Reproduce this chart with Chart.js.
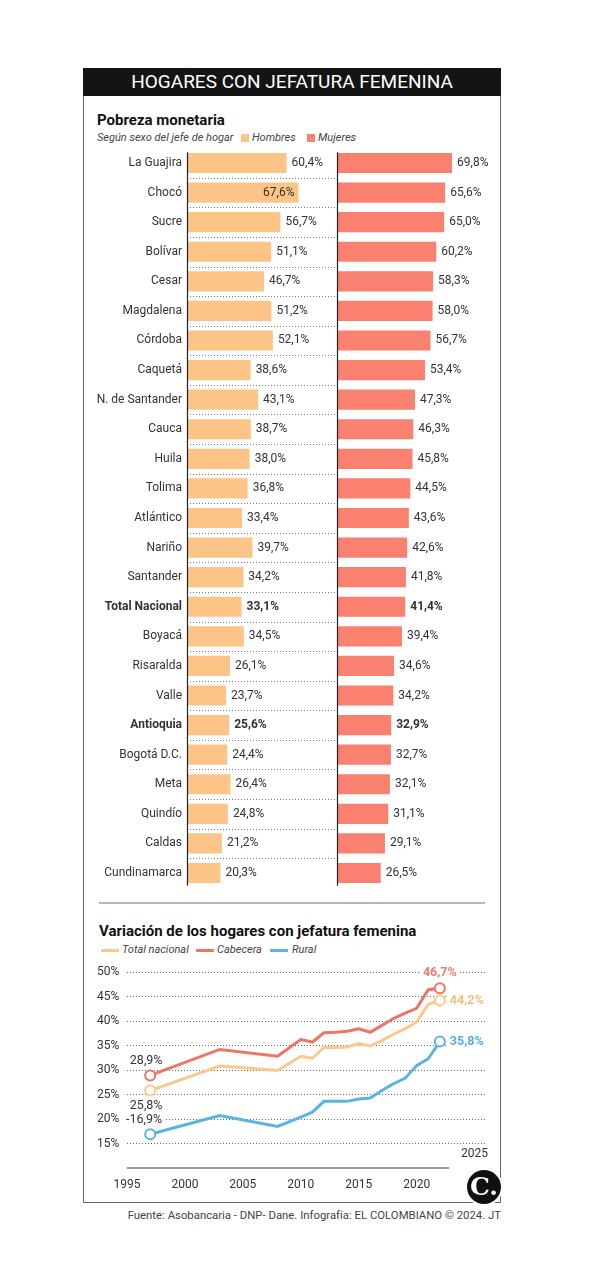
<!DOCTYPE html>
<html lang="es">
<head>
<meta charset="utf-8">
<title>Hogares con jefatura femenina</title>
<script src="https://cdn.jsdelivr.net/npm/chart.js@4.4.1/dist/chart.umd.min.js"></script>
<style>
  body { margin: 0; background: #fff; font-family: Roboto, sans-serif; color: #222; }
  #page { position: relative; width: 594px; height: 1280px; overflow: hidden; }
  .abs { position: absolute; white-space: nowrap; }
  .frame { left: 83px; top: 68px; width: 418px; height: 1135px; border: 1px solid #666; box-sizing: border-box; }
  .header { left: 83px; top: 68px; width: 418px; height: 28px; background: #141414; color: #fff;
            font-size: 19px; line-height: 28px; text-align: center; }
  .title { font-weight: bold; font-size: 15px; line-height: 15px; color: #111; }
  .sub { font-style: italic; font-size: 11px; line-height: 11px; color: #444; }
  .sq { width: 8px; height: 8px; }
  .ln { width: 18px; height: 3px; }
  canvas { position: absolute; }
  .sep { left: 99px; top: 902px; width: 386px; height: 2px; background: #b5b5b5; }
  .logo { left: 467px; top: 1170px; width: 34px; height: 34px; border-radius: 50%; background: #111;
          box-shadow: 0 0 0 2px #fff; color: #fff; font: bold 25px "DejaVu Serif", serif; line-height: 34px; text-align: center; }
  .fuente { right: 93px; top: 1209px; font-size: 11.35px; line-height: 12px; color: #444; }
</style>
</head>
<body>
<div id="page">
  <div class="abs frame"></div>
  <div class="abs header">HOGARES CON JEFATURA FEMENINA</div>

  <div class="abs title" style="left:97px; top:113px;">Pobreza monetaria</div>
  <div class="abs sub" style="left:97px; top:132px;">Según sexo del jefe de hogar</div>
  <div class="abs sq" style="left:241px; top:134px; background:#fdc487;"></div>
  <div class="abs sub" style="left:252px; top:132px;">Hombres</div>
  <div class="abs sq" style="left:307px; top:134px; background:#fa8070;"></div>
  <div class="abs sub" style="left:318px; top:132px;">Mujeres</div>

  <canvas id="barras" width="416" height="764" style="left:84px; top:136px;"></canvas>

  <div class="abs sep"></div>

  <div class="abs title" style="left:99px; top:924px;">Variación de los hogares con jefatura femenina</div>
  <div class="abs ln" style="left:101px; top:949px; background:#fbc98a;"></div>
  <div class="abs sub" style="left:122px; top:944px;">Total nacional</div>
  <div class="abs ln" style="left:196px; top:949px; background:#ec7566;"></div>
  <div class="abs sub" style="left:217px; top:944px;">Cabecera</div>
  <div class="abs ln" style="left:270px; top:949px; background:#5ab4e1;"></div>
  <div class="abs sub" style="left:292px; top:944px;">Rural</div>

  <canvas id="linea" width="416" height="245" style="left:84px; top:955px;"></canvas>

  <div class="abs logo">C.</div>
  <div class="abs fuente">Fuente: Asobancaria - DNP- Dane. Infografía: EL COLOMBIANO © 2024. JT</div>
</div>

<script>
// Pobreza monetaria según sexo del jefe de hogar (%)
const provincias = ['La Guajira', 'Chocó', 'Sucre', 'Bolívar', 'Cesar', 'Magdalena', 'Córdoba', 'Caquetá',
  'N. de Santander', 'Cauca', 'Huila', 'Tolima', 'Atlántico', 'Nariño', 'Santander', 'Total Nacional',
  'Boyacá', 'Risaralda', 'Valle', 'Antioquia', 'Bogotá D.C.', 'Meta', 'Quindío', 'Caldas', 'Cundinamarca'];
const hombres = [60.4, 67.6, 56.7, 51.1, 46.7, 51.2, 52.1, 38.6, 43.1, 38.7, 38.0, 36.8, 33.4, 39.7, 34.2, 33.1,
  34.5, 26.1, 23.7, 25.6, 24.4, 26.4, 24.8, 21.2, 20.3];
const mujeres = [69.8, 65.6, 65.0, 60.2, 58.3, 58.0, 56.7, 53.4, 47.3, 46.3, 45.8, 44.5, 43.6, 42.6, 41.8, 41.4,
  39.4, 34.6, 34.2, 32.9, 32.7, 32.1, 31.1, 29.1, 26.5];
const filasDestacadas = ['Total Nacional', 'Antioquia'];

// Variación de los hogares con jefatura femenina (%)
const anios = [1997, 2003, 2008, 2010, 2011, 2012, 2013, 2014, 2015, 2016, 2017, 2018, 2019, 2020, 2021, 2022];
const totalNacional = [25.8, 30.8, 29.9, 32.8, 32.4, 34.6, 34.6, 34.7, 35.4, 34.9, 36.0, 37.3, 38.4, 39.8, 43.4, 44.2];
const cabecera = [28.9, 34.2, 32.8, 36.2, 35.7, 37.6, 37.7, 37.9, 38.4, 37.7, 39.1, 40.5, 41.6, 42.6, 46.4, 46.7];
const rural = [16.9, 20.7, 18.5, 20.4, 21.4, 23.6, 23.6, 23.6, 24.1, 24.3, 25.8, 27.2, 28.3, 30.9, 32.3, 35.8];

Chart.defaults.font.family = 'Roboto';
Chart.defaults.color = '#333';

function fmt(v) {
  return v.toFixed(1).replace('.', ',') + '%';
}

var barrasExtras = {
  id: 'barrasExtras',
  afterDatasetsDraw: function(chart) {
    var ctx = chart.ctx, xH = chart.scales.xH, xM = chart.scales.xM, y = chart.scales.y, area = chart.chartArea;
    ctx.save();
    // dotted separators, only in the left panel
    ctx.strokeStyle = '#777';
    ctx.lineWidth = 1;
    ctx.setLineDash([1, 2]);
    for (var i = 0; i < provincias.length - 1; i++) {
      var yy = Math.round((y.getPixelForValue(i) + y.getPixelForValue(i + 1)) / 2) + 0.5;
      ctx.beginPath();
      ctx.moveTo(xH.left, yy);
      ctx.lineTo(xH.right, yy);
      ctx.stroke();
    }
    ctx.setLineDash([]);
    // panel axes
    ctx.strokeStyle = '#222';
    ctx.lineWidth = 1.2;
    [xH.left, xM.left].forEach(function(x) {
      ctx.beginPath();
      ctx.moveTo(Math.round(x) + 0.5, area.top + 4);
      ctx.lineTo(Math.round(x) + 0.5, area.bottom - 2);
      ctx.stroke();
    });
    // value labels
    ctx.textBaseline = 'middle';
    ctx.fillStyle = '#333';
    chart.data.datasets.forEach(function(ds, d) {
      chart.getDatasetMeta(d).data.forEach(function(bar, i) {
        var txt = fmt(ds.data[i]);
        ctx.font = (filasDestacadas.indexOf(provincias[i]) >= 0 ? 'bold ' : '') + '12px Roboto';
        var w = ctx.measureText(txt).width;
        // left panel: label goes inside the bar when it would run into the other panel
        if (d === 0 && bar.x + 5 + w > xH.right - 10) {
          ctx.textAlign = 'right';
          ctx.fillText(txt, bar.x - 4, bar.y);
        } else {
          ctx.textAlign = 'left';
          ctx.fillText(txt, bar.x + 5, bar.y);
        }
      });
    });
    ctx.restore();
  }
};

var chartBarras = new Chart(document.getElementById('barras'), {
  type: 'bar',
  data: {
    labels: provincias,
    datasets: [{
      label: 'Hombres',
      data: hombres,
      xAxisID: 'xH',
      backgroundColor: '#fdc487',
      grouped: false,
      categoryPercentage: 1,
      barPercentage: 0.68
    }, {
      label: 'Mujeres',
      data: mujeres,
      xAxisID: 'xM',
      backgroundColor: '#fa8070',
      grouped: false,
      categoryPercentage: 1,
      barPercentage: 0.68
    }]
  },
  options: {
    indexAxis: 'y',
    responsive: false,
    animation: false,
    devicePixelRatio: 1,
    layout: { padding: { left: 0, right: 13, top: 0, bottom: 0 } },
    plugins: { legend: { display: false }, tooltip: { enabled: false } },
    scales: {
      y: {
        grid: { display: false, drawTicks: false },
        border: { display: false },
        afterFit: function(s) { s.width = 103; },
        ticks: {
          padding: 5,
          color: '#333',
          font: function(c) {
            return { family: 'Roboto', size: 12, weight: filasDestacadas.indexOf(provincias[c.index]) >= 0 ? 'bold' : 'normal' };
          }
        }
      },
      xH: { type: 'linear', position: 'bottom', stack: 'paneles', min: 0, max: 91, display: false },
      xM: { type: 'linear', position: 'bottom', stack: 'paneles', min: 0, max: 91, display: false }
    }
  },
  plugins: [barrasExtras]
});

// labels at the ends of the lines
var etiquetasLinea = [
  { d: 1, i: 0, dx: -4, dy: -15, align: 'center', bold: false, text: null },
  { d: 0, i: 0, dx: -4, dy: 15, align: 'center', bold: false, text: null },
  { d: 2, i: 0, dx: -6, dy: -14, align: 'center', bold: false, text: '-' },
  { d: 1, i: -1, dx: 0, dy: -15, align: 'center', bold: true, text: null },
  { d: 0, i: -1, dx: 10, dy: 0, align: 'left', bold: true, text: null },
  { d: 2, i: -1, dx: 10, dy: 0, align: 'left', bold: true, text: null }
];

var lineaExtras = {
  id: 'lineaExtras',
  afterDatasetsDraw: function(chart) {
    var ctx = chart.ctx, x = chart.scales.x, area = chart.chartArea;
    ctx.save();
    // short x axis line, leaves room for the logo
    ctx.strokeStyle = '#7a7a7a';
    ctx.lineWidth = 1.5;
    ctx.beginPath();
    ctx.moveTo(area.left, area.bottom);
    ctx.lineTo(x.getPixelForValue(2022.8), area.bottom);
    ctx.stroke();
    // 2025 sits above the axis
    ctx.font = '12px Roboto';
    ctx.fillStyle = '#333';
    ctx.textAlign = 'center';
    ctx.textBaseline = 'middle';
    ctx.fillText('2025', x.getPixelForValue(2025), area.bottom - 14);

    etiquetasLinea.forEach(function(e) {
      var ds = chart.data.datasets[e.d];
      var pts = chart.getDatasetMeta(e.d).data;
      var idx = e.i < 0 ? pts.length + e.i : e.i;
      var pt = pts[idx];
      var txt = (e.text || '') + fmt(ds.data[idx].y);
      ctx.font = (e.bold ? 'bold ' : '') + '12.5px Roboto';
      ctx.textAlign = e.align;
      var w = ctx.measureText(txt).width;
      var tx = pt.x + e.dx, ty = pt.y + e.dy;
      var x0 = e.align === 'left' ? tx : tx - w / 2;
      // white patch so the dotted grid stops at the label
      ctx.fillStyle = '#fff';
      ctx.fillRect(x0 - 2, ty - 7, w + 4, 14);
      ctx.fillStyle = e.bold ? ds.labelColor : '#333';
      ctx.fillText(txt, tx, ty);
    });
    ctx.restore();
  }
};

function serie(valores) {
  return anios.map(function(a, i) { return { x: a, y: valores[i] }; });
}

function puntoExtremo(c) {
  return (c.dataIndex === 0 || c.dataIndex === anios.length - 1) ? 5 : 0;
}

var chartLinea = new Chart(document.getElementById('linea'), {
  type: 'line',
  data: {
    datasets: [{
      label: 'Total nacional',
      data: serie(totalNacional),
      borderColor: '#fbc98a',
      labelColor: '#f6bd78'
    }, {
      label: 'Cabecera',
      data: serie(cabecera),
      borderColor: '#ec7566',
      labelColor: '#ee7b6c'
    }, {
      label: 'Rural',
      data: serie(rural),
      borderColor: '#5ab4e1',
      labelColor: '#55ade0'
    }]
  },
  options: {
    responsive: false,
    animation: false,
    devicePixelRatio: 1,
    layout: { padding: { left: 13, right: 15, top: 17, bottom: 0 } },
    elements: {
      line: { borderWidth: 3, tension: 0 },
      point: { radius: puntoExtremo, backgroundColor: '#fff', borderWidth: 2 }
    },
    plugins: { legend: { display: false }, tooltip: { enabled: false } },
    scales: {
      x: {
        type: 'linear',
        min: 1995,
        max: 2025.9,
        grid: { display: false, drawTicks: false },
        border: { display: false },
        afterFit: function(s) { s.height = 32; },
        ticks: {
          stepSize: 5,
          includeBounds: false,
          autoSkip: false,
          maxRotation: 0,
          padding: 10,
          color: '#333',
          font: { size: 12 },
          callback: function(v) { return v === 2025 ? '' : String(v); }
        }
      },
      y: {
        min: 10,
        max: 50,
        grid: {
          color: '#666',
          drawTicks: false,
          lineWidth: function(c) { return c.tick && c.tick.value === 10 ? 0 : 1; }
        },
        border: { display: false, dash: [1, 2] },
        afterFit: function(s) { s.width = 30; },
        ticks: {
          stepSize: 5,
          padding: 0,
          crossAlign: 'far',
          color: '#333',
          font: { size: 12 },
          callback: function(v) { return v === 10 ? '' : v + '%'; }
        }
      }
    }
  },
  plugins: [lineaExtras]
});
</script>
</body>
</html>
